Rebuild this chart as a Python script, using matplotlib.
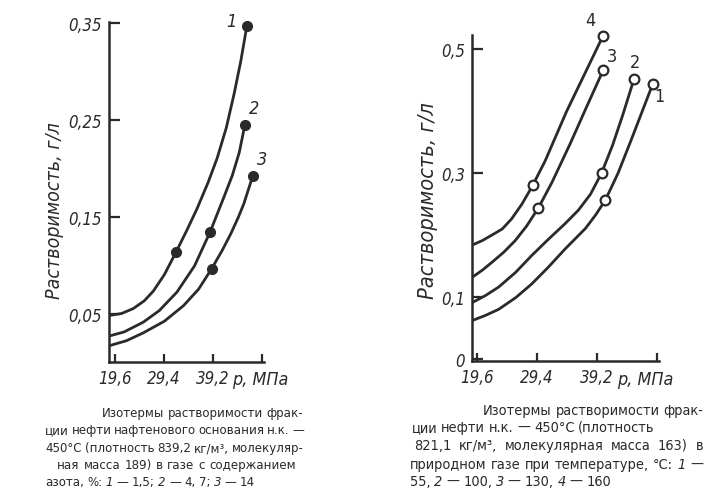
import matplotlib
matplotlib.use("Agg")
import matplotlib.pyplot as plt
from matplotlib import font_manager

# --- data (p in MPa, solubility in g/l) ---
# left: naphthenic oil fraction, nitrogen content 1.5 / 4.7 / 14 %
left_p1 = [18.7, 21.0, 23.3, 25.5, 27.3, 29.5, 31.8, 34.0, 36.0, 38.2, 40.0, 41.8, 43.4, 44.7, 45.9]
left_s1 = [0.049, 0.051, 0.056, 0.064, 0.074, 0.091, 0.114, 0.137, 0.159, 0.186, 0.211, 0.242, 0.278, 0.311, 0.347]
left_p2 = [18.7, 21.5, 25.3, 28.5, 32.0, 35.5, 38.6, 41.2, 43.0, 44.4, 45.5]
left_s2 = [0.028, 0.032, 0.042, 0.054, 0.073, 0.100, 0.135, 0.169, 0.193, 0.217, 0.245]
left_p3 = [18.7, 22.0, 25.3, 29.5, 33.3, 36.3, 38.9, 41.0, 42.7, 44.2, 45.3, 47.1]
left_s3 = [0.018, 0.023, 0.031, 0.043, 0.059, 0.076, 0.097, 0.116, 0.133, 0.150, 0.164, 0.193]
left_marks = [[6, 14], [6, 10], [6, 11]]

# right: oil fraction in natural gas at 55 / 100 / 130 / 160 °C
right_p1 = [18.9, 21.0, 23.2, 26.0, 28.6, 31.3, 34.0, 37.4, 39.0, 40.6, 42.7, 44.7, 48.4]
right_s1 = [0.062, 0.070, 0.080, 0.099, 0.121, 0.148, 0.177, 0.211, 0.232, 0.256, 0.300, 0.350, 0.445]
right_p2 = [18.9, 21.0, 23.2, 26.0, 28.6, 31.3, 34.0, 36.2, 38.2, 40.0, 41.8, 43.5, 45.3]
right_s2 = [0.091, 0.102, 0.116, 0.140, 0.167, 0.193, 0.218, 0.240, 0.266, 0.300, 0.345, 0.395, 0.452]
right_p3 = [18.9, 20.5, 22.1, 24.0, 25.9, 27.8, 29.7, 31.9, 34.9, 37.6, 40.3]
right_s3 = [0.132, 0.143, 0.156, 0.172, 0.191, 0.215, 0.244, 0.285, 0.348, 0.408, 0.467]
right_p4 = [18.9, 20.5, 22.1, 23.8, 25.3, 27.0, 28.8, 30.8, 34.3, 40.2]
right_s4 = [0.184, 0.191, 0.200, 0.210, 0.226, 0.250, 0.281, 0.320, 0.400, 0.521]
right_marks = [[9, 12], [9, 12], [6, 10], [6, 9]]

x_ticks = [19.6, 29.4, 39.2, 49.0]
x_labels = ["19,6", "29,4", "39,2", ""]
left_yticks = [0.05, 0.15, 0.25, 0.35]
left_ylabels = ["0,05", "0,15", "0,25", "0,35"]
right_yticks = [0.0, 0.1, 0.3, 0.5]
right_ylabels = ["0", "0,1", "0,3", "0,5"]

left_caption = [
    "Изотермы растворимости фрак-",
    "ции нефти нафтенового основания н.к. —",
    "450°С (плотность 839,2 кг/м³, молекуляр-",
    "ная масса 189) в газе с содержанием",
    "азота, %: 1 — 1,5; 2 — 4, 7; 3 — 14",
]
right_caption = [
    "Изотермы растворимости фрак-",
    "ции нефти н.к. — 450°С (плотность",
    "821,1 кг/м³, молекулярная масса 163) в",
    "природном газе при температуре, °С: 1 —",
    "55, 2 — 100, 3 — 130, 4 — 160",
]

# the book type is narrow; use a condensed face if one is installed
narrow_name = None
for f in font_manager.fontManager.ttflist:
    tag = (f.name + " " + f.fname).lower()
    if ("condensed" in tag or "narrow" in tag) and f.style == "normal" \
            and f.name in ("Roboto Condensed", "Open Sans Condensed", "Liberation Sans Narrow",
                           "Noto Sans Condensed", "DejaVu Sans Condensed", "Roboto", "Open Sans",
                           "Noto Sans", "DejaVu Sans", "Liberation Sans"):
        narrow_name = f.name
        narrow_stretch = f.stretch
        break

if narrow_name:
    plt.rcParams["font.family"] = [narrow_name, "DejaVu Sans"]
    plt.rcParams["font.stretch"] = narrow_stretch
    k = 1.12
else:
    plt.rcParams["font.family"] = ["DejaVu Sans"]
    k = 1.0

ink = "#2a2a2a"
W, H = 708, 489
fig = plt.figure(figsize=(W / 100, H / 100), dpi=100)
fig.patch.set_facecolor("white")


def box(x0, x1, top, bottom):
    return [x0 / W, (H - bottom) / H, (x1 - x0) / W, (bottom - top) / H]


def style(ax, yticks, ylabels):
    for side in ("top", "right"):
        ax.spines[side].set_visible(False)
    for side in ("left", "bottom"):
        ax.spines[side].set_linewidth(1.8)
        ax.spines[side].set_color(ink)
    ax.set_facecolor("none")
    ax.set_xticks(x_ticks)
    ax.set_xticklabels(x_labels)
    ax.set_yticks(yticks)
    ax.set_yticklabels(ylabels)
    ax.tick_params(axis="y", direction="in", length=8, width=1.6, color=ink,
                   labelsize=10.8 * k, pad=5, labelcolor=ink)
    ax.tick_params(axis="x", direction="in", length=6, width=1.6, color=ink,
                   labelsize=10.8 * k, pad=5, labelcolor=ink)
    for t in ax.get_xticklabels() + ax.get_yticklabels():
        t.set_fontstyle("italic")


# left chart
ax1 = fig.add_axes(box(109, 264, 22.7, 363))
ax1.set_xlim(18.49, 49.31)
ax1.set_ylim(0.001, 0.3515)
for p, s, m in zip([left_p1, left_p2, left_p3], [left_s1, left_s2, left_s3], left_marks):
    ax1.plot(p, s, color=ink, lw=2.0, solid_capstyle="round", solid_joinstyle="round")
    ax1.plot([p[i] for i in m], [s[i] for i in m], "o", color=ink, ms=7, clip_on=False)
style(ax1, left_yticks, left_ylabels)
for txt, x, y in [("1", 42.9, 0.352), ("2", 47.3, 0.263), ("3", 48.9, 0.21)]:
    ax1.text(x, y, txt, fontsize=13, fontstyle="italic", color=ink,
             ha="center", va="center", clip_on=False)

# right chart
ax2 = fig.add_axes(box(472.3, 659, 36, 361.7))
ax2.set_xlim(18.9, 49.39)
ax2.set_ylim(-0.003, 0.5234)
for p, s, m in zip([right_p1, right_p2, right_p3, right_p4],
                   [right_s1, right_s2, right_s3, right_s4], right_marks):
    ax2.plot(p, s, color=ink, lw=2.0, solid_capstyle="round", solid_joinstyle="round")
    ax2.plot([p[i] for i in m], [s[i] for i in m], "o", mfc="white", mec=ink,
             mew=1.6, ms=7, clip_on=False, zorder=3)
style(ax2, right_yticks, right_ylabels)
for txt, x, y in [("4", 38.1, 0.548), ("3", 41.7, 0.489), ("2", 45.4, 0.479), ("1", 49.5, 0.425)]:
    ax2.text(x, y, txt, fontsize=13, color=ink, ha="center", va="center", clip_on=False)

# axis titles
fig.text(55 / W, 1 - 211 / H, "Растворимость, г/л", rotation=90, fontsize=12.5 * k,
         fontstyle="italic", color=ink, ha="center", va="center")
fig.text(428 / W, 1 - 201 / H, "Растворимость, г/л", rotation=90, fontsize=14 * k,
         fontstyle="italic", color=ink, ha="center", va="center")
fig.text(232 / W, 1 - 380 / H, "p, МПа", fontsize=11.5 * k, fontstyle="italic",
         color=ink, ha="left", va="center")
fig.text(617 / W, 1 - 380 / H, "p, МПа", fontsize=11.5 * k, fontstyle="italic",
         color=ink, ha="left", va="center")

# captions: book paragraph (indented first line, justified body), curve numbers italic
renderer = fig.canvas.get_renderer()


def caption_line(line, x0, x1, y, size, mode):
    words = line.split(" ")
    texts = [fig.text(0, 1 - y / H, w, fontsize=size, color=ink, ha="left", va="center",
                      fontstyle="italic" if w in ("1", "2", "3", "4") else "normal")
             for w in words]
    widths = [t.get_window_extent(renderer).width for t in texts]
    gap = size * 0.36
    if mode == "justify":
        gap = max(((x1 - x0) - sum(widths)) / (len(words) - 1), size * 0.22)
    elif mode == "right":
        x0 = x1 - sum(widths) - gap * (len(words) - 1)
    x = x0
    for t, w in zip(texts, widths):
        t.set_x(x / W)
        x += w + gap


left_rows = [(88, 303, 413, "right"), (45, 304, 431, "justify"), (45, 304, 449, "justify"),
             (57, 296, 466, "justify"), (45, 245, 483, "left")]
right_rows = [(468, 703, 411, "right"), (412, 668, 428, "left"), (414, 703, 446, "justify"),
              (410, 703, 465, "justify"), (410, 617, 482, "left")]
for line, (x0, x1, y, mode) in zip(left_caption, left_rows):
    caption_line(line, x0, x1, y, 8.4 * k, mode)
for line, (x0, x1, y, mode) in zip(right_caption, right_rows):
    caption_line(line, x0, x1, y, 9.3 * k, mode)

fig.savefig("out.png", dpi=100, facecolor="white")
